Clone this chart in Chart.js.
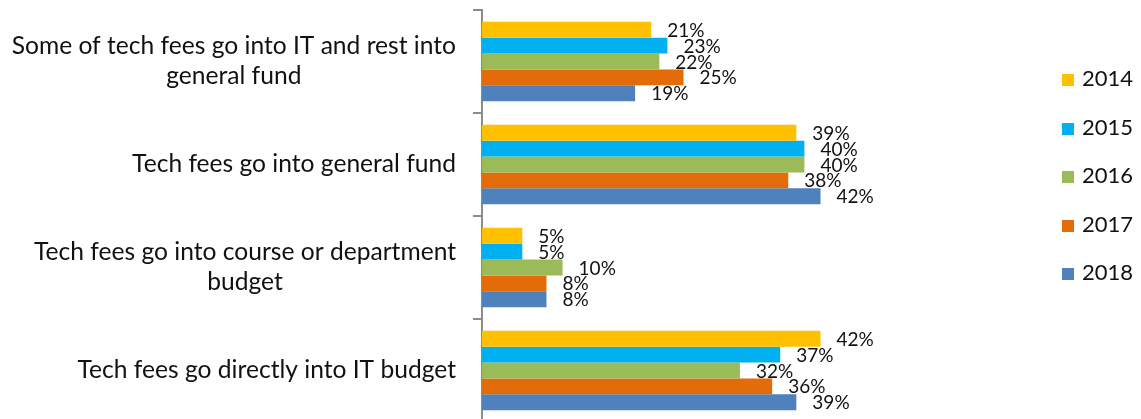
<!DOCTYPE html>
<html>
<head>
<meta charset="utf-8">
<script src="https://cdn.jsdelivr.net/npm/chart.js@4"></script>
<style>
  html, body { margin: 0; padding: 0; background: #fff; overflow: hidden; }
  #wrap { position: relative; width: 1141px; height: 419px; }
  #plot { position: absolute; left: 0; top: 0; }
  #legend { position: absolute; left: 1062px; top: 64px; font-family: Lato, sans-serif; font-size: 22px; color: #111; }
  #legend div { height: 48.5px; display: flex; align-items: flex-start; }
  #legend span.box { display: inline-block; width: 12px; height: 12px; margin-top: 10px; margin-right: 8px; }
</style>
</head>
<body>
<div id="wrap">
  <canvas id="plot" width="1141" height="422"></canvas>
  <div id="legend"></div>
</div>
<script>
const categories = [
  ["Some of tech fees go into IT and rest into", "general fund"],
  "Tech fees go into general fund",
  ["Tech fees go into course or department", "budget"],
  "Tech fees go directly into IT budget"
];
const years = ["2014", "2015", "2016", "2017", "2018"];
const colors = ["#FFC000", "#00B0F0", "#9BBB59", "#E36C09", "#4F81BD"];

const v2014 = [21, 39, 5, 42];
const v2015 = [23, 40, 5, 37];
const v2016 = [22, 40, 10, 32];
const v2017 = [25, 38, 8, 36];
const v2018 = [19, 42, 8, 39];
const seriesValues = [v2014, v2015, v2016, v2017, v2018];

// value text at the end of each bar
const barLabels = {
  id: 'barLabels',
  afterDatasetsDraw(chart) {
    const ctx = chart.ctx;
    ctx.save();
    ctx.font = '19px Lato';
    ctx.fillStyle = '#111';
    ctx.textAlign = 'left';
    ctx.textBaseline = 'middle';
    chart.data.datasets.forEach((ds, di) => {
      chart.getDatasetMeta(di).data.forEach((bar, i) => {
        ctx.fillText(ds.data[i] + '%', bar.x + 16, bar.y + 1);
      });
    });
    ctx.restore();
  }
};

// category names: block right-aligned, lines centred inside it
const categoryLabels = {
  id: 'categoryLabels',
  afterDraw(chart) {
    const ctx = chart.ctx;
    const yScale = chart.scales.y;
    const right = yScale.right - 26;
    ctx.save();
    ctx.font = '24.6px Lato';
    ctx.fillStyle = '#111';
    ctx.textAlign = 'center';
    ctx.textBaseline = 'middle';
    categories.forEach((label, i) => {
      const lines = Array.isArray(label) ? label : [label];
      const w = Math.max(...lines.map(l => ctx.measureText(l).width));
      const cx = right - w / 2;
      const lh = 30;
      const y0 = yScale.getPixelForTick(i) - (lines.length - 1) * lh / 2;
      lines.forEach((l, k) => ctx.fillText(l, cx, y0 + k * lh));
    });
    ctx.restore();
  }
};

const data = {
  labels: categories,
  datasets: years.map((y, i) => ({
    label: y,
    data: seriesValues[i],
    backgroundColor: colors[i],
    borderWidth: 0,
    categoryPercentage: 0.77,
    barPercentage: 1.0
  }))
};

const config = {
  type: 'bar',
  data: data,
  options: {
    indexAxis: 'y',
    responsive: false,
    animation: false,
    layout: { padding: { left: 473, right: 256, top: 10, bottom: 0 } },
    plugins: {
      legend: { display: false },
      tooltip: { enabled: false }
    },
    scales: {
      x: { display: false, min: 0, max: 50 },
      y: {
        ticks: { display: false },
        grid: { drawOnChartArea: false, tickLength: 9, color: '#8c8c8c', lineWidth: 2 },
        border: { color: '#8c8c8c', width: 2 }
      }
    }
  },
  plugins: [barLabels, categoryLabels]
};

const legend = document.getElementById('legend');
years.forEach((y, i) => {
  const row = document.createElement('div');
  row.innerHTML = '<span class="box" style="background:' + colors[i] + '"></span>' + y;
  legend.appendChild(row);
});

let ctx = document.getElementById('plot').getContext('2d');
let chart = new Chart(ctx, config);
</script>
</body>
</html>
